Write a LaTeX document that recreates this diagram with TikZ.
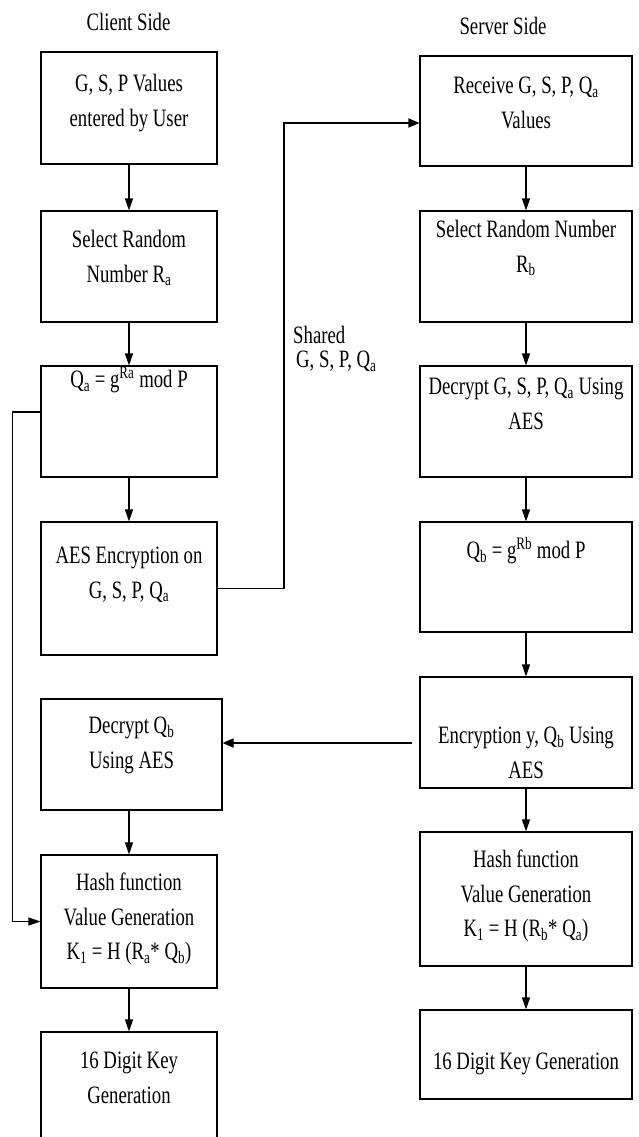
\documentclass[tikz,border=0pt]{standalone}
\usepackage{fontspec}
\setmainfont{Liberation Serif}[FakeStretch=0.75]
\usetikzlibrary{arrows.meta}
\begin{document}
\begin{tikzpicture}[x=1pt,y=-1pt,
  box/.style={draw, line width=1.1pt, inner sep=0pt},
  lbox/.style={box, minimum width=176pt},
  rbox/.style={box, minimum width=212pt},
  txt/.style={font=\fontsize{25}{34.5}\selectfont, align=center, inner sep=0pt, anchor=north},
  arr/.style={line width=1.1pt, -{Triangle[length=12pt,width=8pt]}},
  harr/.style={line width=1.7pt, -{Triangle[length=11pt,width=9pt]}},
]
\useasboundingbox (0,0) rectangle (638,1137);
\clip (0,0) rectangle (638,1137);

% titles
\node[txt] (tc) at (128.5,13) {Client Side};
\node[txt] (ts) at (503,17) {Server Side};

% client boxes
\node[lbox, minimum height=112pt] (c1) at (129,108) {};
\node[lbox, minimum height=111pt] (c2) at (129,266.5) {};
\node[lbox, minimum height=111pt] (c3) at (129,421.5) {};
\node[lbox, minimum height=133pt] (c4) at (129,588.5) {};
\node[box, minimum width=181pt, minimum height=111pt] (c5) at (131.5,754.5) {};
\node[lbox, minimum height=133pt] (c6) at (129,921.5) {};
\node[lbox, minimum height=136pt] (c7) at (129,1100) {};

\node[txt] (c1t) at (129,74) {G, S, P Values\\entered by User};
\node[txt] (c2t) at (129,230) {Select Random\\Number R\textsubscript{a}};
\node[txt] (c3t) at (129,367) {Q\textsubscript{a} = g\textsuperscript{Ra} mod P};
\node[txt] (c4t) at (129,547) {AES Encryption on\\G, S, P, Q\textsubscript{a}};
\node[txt] (c5t) at (131.5,717) {Decrypt Q\textsubscript{b}\\Using AES};
\node[txt] (c6t) at (129,873) {Hash function\\Value Generation\\K\textsubscript{1} = H (R\textsubscript{a}* Q\textsubscript{b})};
\node[txt] (c7t) at (129,1052) {16 Digit Key\\Generation};

% server boxes
\node[rbox, minimum height=110pt] (r1) at (526,111) {};
\node[rbox, minimum height=111pt] (r2) at (526,266.5) {};
\node[rbox, minimum height=111pt] (r3) at (526,421.5) {};
\node[rbox, minimum height=110pt] (r4) at (526,577) {};
\node[rbox, minimum height=111pt] (r5) at (526,732.5) {};
\node[rbox, minimum height=134pt] (r6) at (526,899) {};
\node[rbox, minimum height=89pt] (r7) at (526,1054.5) {};

\node[txt] (r1t) at (526,77) {Receive G, S, P, Q\textsubscript{a}\\Values};
\node[txt] (r2t) at (526,220) {Select Random Number\\R\textsubscript{b}};
\node[txt] (r3t) at (526,378) {Decrypt G, S, P, Q\textsubscript{a} Using\\AES};
\node[txt] (r4t) at (526,537) {Q\textsubscript{b} = g\textsuperscript{Rb} mod P};
\node[txt] (r5t) at (526,727) {Encryption y, Q\textsubscript{b} Using\\AES};
\node[txt] (r6t) at (526,850) {Hash function\\Value Generation\\K\textsubscript{1} = H (R\textsubscript{b}* Q\textsubscript{a})};
\node[txt] (r7t) at (526,1053) {16 Digit Key Generation};

% shared label
\node[txt, anchor=north west, align=left, font=\fontsize{25}{24}\selectfont] (shl) at (293,326) {Shared\\\hspace*{3pt}G, S, P, Q\textsubscript{a}};

% client arrows
\draw[arr] (c1.south) -- (c2.north);
\draw[arr] (c2.south) -- (c3.north);
\draw[arr] (c3.south) -- (c4.north);
\draw[arr] (c5.south -| c6.north) -- (c6.north);
\draw[arr] (c6.south) -- (c7.north);

% server arrows
\draw[arr] (r1.south) -- (r2.north);
\draw[arr] (r2.south) -- (r3.north);
\draw[arr] (r3.south) -- (r4.north);
\draw[arr] (r4.south) -- (r5.north);
\draw[arr] (r5.south) -- (r6.north);
\draw[arr] (r6.south) -- (r7.north);

% loop from Qa to hash
\draw[arr] ([yshift=9.5pt]c3.west) -- ++(-28,0) |- (c6.west);

% shared connector
\coordinate (sk) at (284,123);
\draw[harr] (c4.east) -| (sk) -- (sk -| r1.west);

% encryption back to client
\coordinate (ek) at (412,743);
\draw[harr] (ek) -- (ek -| c5.east);
\end{tikzpicture}
\end{document}
